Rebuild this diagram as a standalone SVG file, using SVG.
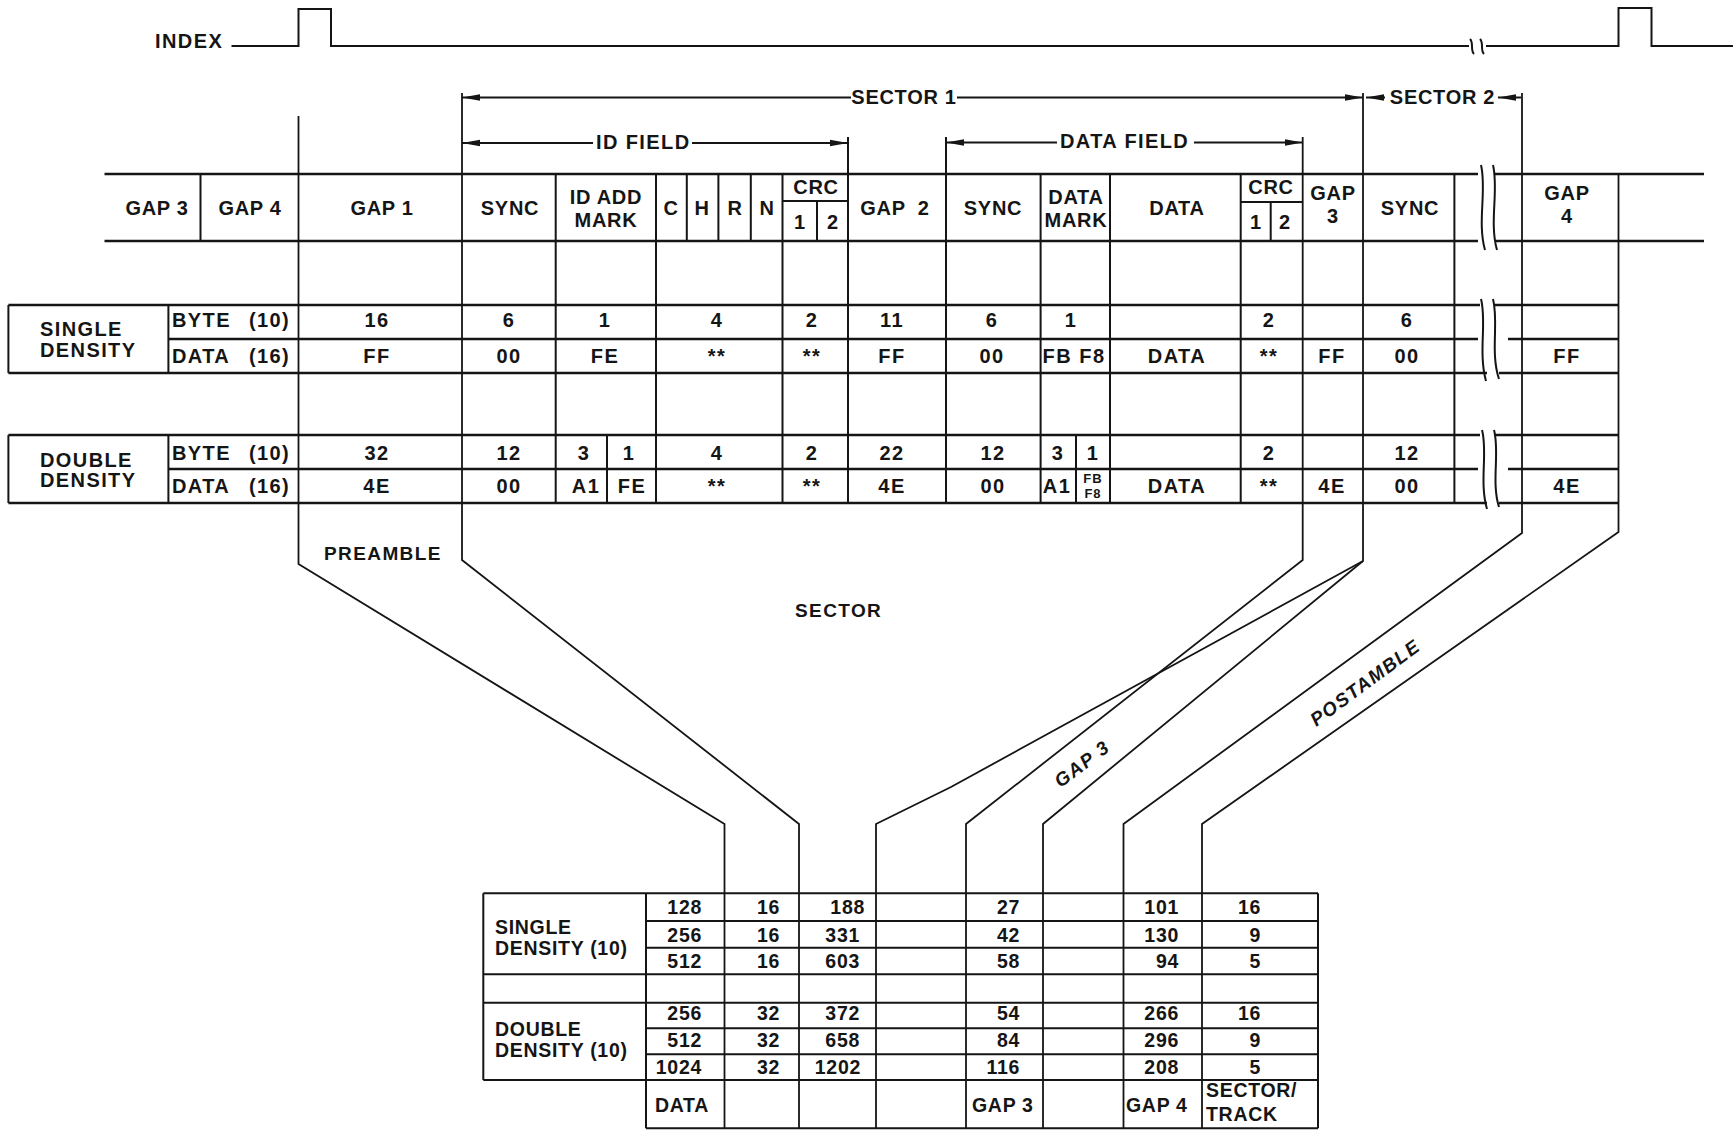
<svg xmlns="http://www.w3.org/2000/svg" width="1733" height="1135" viewBox="0 0 1733 1135">
<style>
text{font-family:"Liberation Sans",Arial,Helvetica,sans-serif;font-weight:bold;fill:#151515}
.a{font-size:20px;letter-spacing:0.7px;text-anchor:middle}
.s{font-size:20px;letter-spacing:1.4px}
.v{font-size:20px;letter-spacing:1.5px;text-anchor:middle}
.sm{font-size:13px;letter-spacing:1px;text-anchor:middle}
.b{font-size:19.5px;letter-spacing:0.7px}
.e{text-anchor:end}
.i{font-style:italic;font-size:19px;letter-spacing:1.5px;text-anchor:middle}
.ln{stroke:#151515;stroke-width:2;fill:none}
.hv{stroke:#151515;stroke-width:2.5;fill:none}
.fn{stroke:#151515;stroke-width:1.8;fill:none}
</style>
<defs>
<marker id="ah" viewBox="0 0 18 8" refX="18" refY="4" markerWidth="18" markerHeight="8" markerUnits="userSpaceOnUse" orient="auto"><path d="M0,0.8 L18,4 L0,7.2 z" fill="#151515"/></marker>
</defs>
<rect width="1733" height="1135" fill="#fff"/>

<g id="index-signal">
<text class="s" x="155" y="48">INDEX</text>
<path class="ln" d="M231.5,46 H298.5 V9 H331 V46 H1469 M1470,39 C1474,43 1470,50 1474,54 M1480,39 C1484,43 1480,50 1484,54 M1486,46 H1618.5 V8 H1651.5 V46 H1733"/>
</g>

<g id="dimension-labels">
<text class="a" x="904" y="104">SECTOR 1</text>
<text class="a" x="1442.5" y="104">SECTOR 2</text>
<text class="s" x="596" y="148.5">ID FIELD</text>
<text class="s" x="1060" y="148">DATA FIELD</text>
</g>

<g id="track-header">
<path class="hv" d="M104.5,174 H1478 M1495,174 H1704 M104.5,241 H1478 M1495,241 H1704"/>
<path class="ln" d="M1481,165 C1487,190 1477,222 1485,250 M1493,165 C1499,190 1489,222 1497,250"/>
<path class="ln" d="M200.5,174 V241 M686.8,174 V241 M718.4,174 V241 M750.8,174 V241 M817,201 V241 M1270.7,202 V241 M782.5,201 H848 M1240.7,202 H1302.7"/>
<text class="a" x="157" y="215">GAP 3</text>
<text class="a" x="250" y="215">GAP 4</text>
<text class="a" x="382" y="215">GAP 1</text>
<text class="a" x="510" y="215">SYNC</text>
<text class="a" x="606" y="204">ID ADD</text>
<text class="a" x="606" y="227">MARK</text>
<text class="a" x="671" y="215">C</text>
<text class="a" x="702" y="215">H</text>
<text class="a" x="735" y="215">R</text>
<text class="a" x="767" y="215">N</text>
<text class="a" x="816" y="194">CRC</text>
<text class="a" x="800" y="229">1</text>
<text class="a" x="833" y="229">2</text>
<text class="a" x="895" y="215" style="white-space:pre">GAP  2</text>
<text class="a" x="993" y="215">SYNC</text>
<text class="a" x="1076" y="204">DATA</text>
<text class="a" x="1076" y="227">MARK</text>
<text class="a" x="1177" y="215">DATA</text>
<text class="a" x="1271" y="194">CRC</text>
<text class="a" x="1256" y="229">1</text>
<text class="a" x="1285" y="229">2</text>
<text class="a" x="1333" y="200">GAP</text>
<text class="a" x="1333" y="223">3</text>
<text class="a" x="1410" y="215">SYNC</text>
<text class="a" x="1567" y="200">GAP</text>
<text class="a" x="1567" y="223">4</text>
</g>

<g id="single-density">
<path class="hv" d="M8.4,305 H1480 M1494,305 H1618.5 M168.4,339 H1478 M1508,339 H1618.5 M8.4,373 H1487 M1499,373 H1618.5"/>
<path class="ln" d="M8.4,305 V373 M168.4,305 V373"/>
<path class="ln" d="M1481,299 C1487,322 1478,352 1486,381 M1493,299 C1499,322 1490,352 1499,379"/>
<text class="s" x="40" y="336">SINGLE</text>
<text class="s" x="40" y="357">DENSITY</text>
<text class="s" x="172" y="327">BYTE <tspan x="249">(10)</tspan></text>
<text class="s" x="172" y="363">DATA <tspan x="249">(16)</tspan></text>
<text class="v" x="377" y="327">16</text>
<text class="v" x="509" y="327">6</text>
<text class="v" x="605" y="327">1</text>
<text class="v" x="717" y="327">4</text>
<text class="v" x="812" y="327">2</text>
<text class="v" x="892" y="327">11</text>
<text class="v" x="992" y="327">6</text>
<text class="v" x="1071" y="327">1</text>
<text class="v" x="1269" y="327">2</text>
<text class="v" x="1407" y="327">6</text>
<text class="v" x="377" y="363">FF</text>
<text class="v" x="509" y="363">00</text>
<text class="v" x="605" y="363">FE</text>
<text class="v" x="717" y="363">**</text>
<text class="v" x="812" y="363">**</text>
<text class="v" x="892" y="363">FF</text>
<text class="v" x="992" y="363">00</text>
<text class="v" x="1074" y="363">FB F8</text>
<text class="v" x="1177" y="363">DATA</text>
<text class="v" x="1269" y="363">**</text>
<text class="v" x="1332" y="363">FF</text>
<text class="v" x="1407" y="363">00</text>
<text class="v" x="1567" y="363">FF</text>
</g>

<g id="double-density">
<path class="hv" d="M8.4,435 H1480 M1494,435 H1618.5 M168.4,469 H1478 M1508,469 H1618.5 M8.4,503 H1487 M1499,503 H1618.5"/>
<path class="ln" d="M8.4,435 V503 M168.4,435 V503 M607,435 V503 M1076,435 V503"/>
<path class="ln" d="M1482,430 C1488,452 1479,482 1487,509 M1494,430 C1500,452 1491,482 1499,507"/>
<text class="s" x="40" y="467">DOUBLE</text>
<text class="s" x="40" y="487">DENSITY</text>
<text class="s" x="172" y="460">BYTE <tspan x="249">(10)</tspan></text>
<text class="s" x="172" y="493">DATA <tspan x="249">(16)</tspan></text>
<text class="v" x="377" y="460">32</text>
<text class="v" x="509" y="460">12</text>
<text class="v" x="584" y="460">3</text>
<text class="v" x="629" y="460">1</text>
<text class="v" x="717" y="460">4</text>
<text class="v" x="812" y="460">2</text>
<text class="v" x="892" y="460">22</text>
<text class="v" x="993" y="460">12</text>
<text class="v" x="1058" y="460">3</text>
<text class="v" x="1093" y="460">1</text>
<text class="v" x="1269" y="460">2</text>
<text class="v" x="1407" y="460">12</text>
<text class="v" x="377" y="493">4E</text>
<text class="v" x="509" y="493">00</text>
<text class="v" x="586" y="493">A1</text>
<text class="v" x="632" y="493">FE</text>
<text class="v" x="717" y="493">**</text>
<text class="v" x="812" y="493">**</text>
<text class="v" x="892" y="493">4E</text>
<text class="v" x="993" y="493">00</text>
<text class="v" x="1057" y="493">A1</text>
<text class="sm" x="1093" y="482.5">FB</text>
<text class="sm" x="1093" y="497.5">F8</text>
<text class="v" x="1177" y="493">DATA</text>
<text class="v" x="1269" y="493">**</text>
<text class="v" x="1332" y="493">4E</text>
<text class="v" x="1407" y="493">00</text>
<text class="v" x="1567" y="493">4E</text>
</g>

<g id="connectors">
<path class="ln" marker-end="url(#ah)" d="M851,97.5 H462"/>
<path class="ln" marker-end="url(#ah)" d="M957,97.5 H1363"/>
<path class="ln" marker-end="url(#ah)" d="M1385,97.5 H1366"/>
<path class="ln" marker-end="url(#ah)" d="M1521,97.5 H1498"/>
<path class="ln" marker-end="url(#ah)" d="M593,143 H462"/>
<path class="ln" marker-end="url(#ah)" d="M692,143 H848"/>
<path class="ln" marker-end="url(#ah)" d="M1057,142.5 H946"/>
<path class="ln" marker-end="url(#ah)" d="M1194,142.5 H1302.7"/>
<path class="ln" d="M555.7,174 V503 M656,174 V503 M782.5,174 V503 M848,137 V503 M946,137 V503 M1040.6,174 V503 M1110,174 V503 M1240.7,174 V503 M1454.4,174 V503"/>
<path class="fn" d="M298.5,116 V564 L724.5,824 V1128"/>
<path class="fn" d="M462,93 V560 L799,824 V1128"/>
<path class="fn" d="M1302.7,137 V560 L966,824 V1128"/>
<path class="fn" d="M1363,93 V561 L951,787 L876,824 V1128"/>
<path class="fn" d="M1363,561 L1043,824 V1128"/>
<path class="fn" d="M1522,93 V533 L1123.5,824 V1128"/>
<path class="fn" d="M1618.5,174 V532 L1202,824 V1128"/>
</g>

<g id="funnel-labels">
<text class="s" style="font-size:19px" x="324" y="560">PREAMBLE</text>
<text class="s" style="font-size:19px" x="795" y="617">SECTOR</text>
<text class="i" transform="translate(1086,769) rotate(-37)">GAP 3</text>
<text class="i" transform="translate(1369,688) rotate(-36.5)">POSTAMBLE</text>
</g>

<g id="format-table">
<path class="ln" d="M483.3,893.3 H1318 M483.3,974.3 H1318 M483.3,1002.7 H1318 M483.3,1080 H1318 M646,921 H1318 M646,947.7 H1318 M646,1028.3 H1318 M646,1054.3 H1318 M646,1128.3 H1318 M483.3,893.3 V1080 M646,893.3 V1128.3 M1318,893.3 V1128.3"/>
<text class="b" x="495" y="934">SINGLE</text>
<text class="b" x="495" y="955">DENSITY (10)</text>
<text class="b" x="495" y="1036">DOUBLE</text>
<text class="b" x="495" y="1057">DENSITY (10)</text>
<text class="b e" x="702" y="914">128</text>
<text class="b e" x="702" y="942">256</text>
<text class="b e" x="702" y="968">512</text>
<text class="b e" x="702" y="1020">256</text>
<text class="b e" x="702" y="1046.5">512</text>
<text class="b e" x="702" y="1074">1024</text>
<text class="b e" x="780" y="914">16</text>
<text class="b e" x="780" y="942">16</text>
<text class="b e" x="780" y="968">16</text>
<text class="b e" x="780" y="1020">32</text>
<text class="b e" x="780" y="1046.5">32</text>
<text class="b e" x="780" y="1074">32</text>
<text class="b e" x="865" y="914">188</text>
<text class="b e" x="860" y="942">331</text>
<text class="b e" x="860" y="968">603</text>
<text class="b e" x="860" y="1020">372</text>
<text class="b e" x="860" y="1046.5">658</text>
<text class="b e" x="861" y="1074">1202</text>
<text class="b e" x="1020" y="914">27</text>
<text class="b e" x="1020" y="942">42</text>
<text class="b e" x="1020" y="968">58</text>
<text class="b e" x="1020" y="1020">54</text>
<text class="b e" x="1020" y="1046.5">84</text>
<text class="b e" x="1020" y="1074">116</text>
<text class="b e" x="1179" y="914">101</text>
<text class="b e" x="1179" y="942">130</text>
<text class="b e" x="1179" y="968">94</text>
<text class="b e" x="1179" y="1020">266</text>
<text class="b e" x="1179" y="1046.5">296</text>
<text class="b e" x="1179" y="1074">208</text>
<text class="b e" x="1261" y="914">16</text>
<text class="b e" x="1261" y="942">9</text>
<text class="b e" x="1261" y="968">5</text>
<text class="b e" x="1261" y="1020">16</text>
<text class="b e" x="1261" y="1046.5">9</text>
<text class="b e" x="1261" y="1074">5</text>
<text class="b" x="655" y="1112">DATA</text>
<text class="b" x="972" y="1112">GAP 3</text>
<text class="b" x="1126" y="1112">GAP 4</text>
<text class="b" x="1206" y="1097">SECTOR/</text>
<text class="b" x="1206" y="1121">TRACK</text>
</g>
</svg>
